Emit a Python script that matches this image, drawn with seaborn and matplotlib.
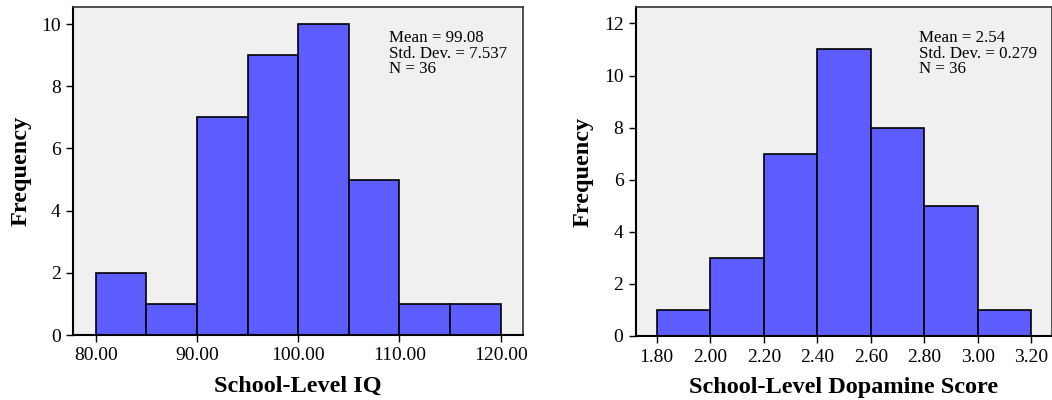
import numpy as np
import pandas as pd
import matplotlib
matplotlib.use("Agg")
import matplotlib.pyplot as plt
import seaborn as sns

# ---- data ----
iq_edges = [80, 85, 90, 95, 100, 105, 110, 115, 120]
iq_counts = [2, 1, 7, 9, 10, 5, 1, 1]
iq_ticks = [80, 90, 100, 110, 120]
iq_stats = "Mean = 99.08\nStd. Dev. = 7.537\nN = 36"

dop_edges = [1.8, 2.0, 2.2, 2.4, 2.6, 2.8, 3.0, 3.2]
dop_counts = [1, 3, 7, 11, 8, 5, 1]
dop_ticks = [1.8, 2.0, 2.2, 2.4, 2.6, 2.8, 3.0, 3.2]
dop_stats = "Mean = 2.54\nStd. Dev. = 0.279\nN = 36"

sns.set_theme(style="ticks")
plt.rcParams['font.family'] = ['Liberation Serif', 'DejaVu Serif']
plt.rcParams['text.color'] = 'black'
plt.rcParams['axes.labelcolor'] = 'black'
plt.rcParams['xtick.color'] = 'black'
plt.rcParams['ytick.color'] = 'black'
plt.rcParams['xtick.labelcolor'] = 'black'
plt.rcParams['ytick.labelcolor'] = 'black'

fig = plt.figure(figsize=(10.52, 4.0), dpi=100)
ax1 = fig.add_axes([73/1052, 65/400, 450/1052, 328/400])
ax2 = fig.add_axes([636/1052, 64/400, 416/1052, 329/400])

FILL = "#5d5dff"
BG = "#f0f0f0"

def draw(ax, edges, counts, ticks, xlim, ylim, yticks, xlabel, stats, tx):
    e = np.array(edges, dtype=float)
    centers = (e[:-1] + e[1:]) / 2
    df = pd.DataFrame({"x": centers, "w": counts})
    sns.histplot(data=df, x="x", weights="w", bins=list(edges), ax=ax,
                 color=FILL, alpha=1.0, edgecolor="black", linewidth=1.2)
    ax.set_facecolor(BG)
    ax.set_xlim(*xlim)
    ax.set_ylim(*ylim)
    ax.set_xticks(ticks)
    ax.set_xticklabels([f"{t:.2f}" for t in ticks])
    ax.set_yticks(yticks)
    ax.set_xlabel(xlabel, fontsize=17.5, fontweight="bold", labelpad=8)
    ax.set_ylabel("Frequency", fontsize=17.5, fontweight="bold", labelpad=7)
    ax.tick_params(axis="both", labelsize=14, length=5, width=1, color="black",
                   labelcolor="black", direction="out", pad=4)
    for s in ["left", "bottom"]:
        ax.spines[s].set_color("black")
        ax.spines[s].set_linewidth(1.5)
    for s in ["top", "right"]:
        ax.spines[s].set_color("#333333")
        ax.spines[s].set_linewidth(1.2)
    ax.text(tx, 0.93, stats, transform=ax.transAxes, fontsize=12.2,
            va="top", ha="left", linespacing=0.97, color="black")

draw(ax1, iq_edges, iq_counts, iq_ticks, (77.76, 122.2), (0, 10.55),
     [0, 2, 4, 6, 8, 10], "School-Level IQ", iq_stats, 0.703)
draw(ax2, dop_edges, dop_counts, dop_ticks, (1.7226, 3.277), (0, 12.63),
     [0, 2, 4, 6, 8, 10, 12], "School-Level Dopamine Score", dop_stats, 0.68)

fig.savefig("out.png", dpi=100)
